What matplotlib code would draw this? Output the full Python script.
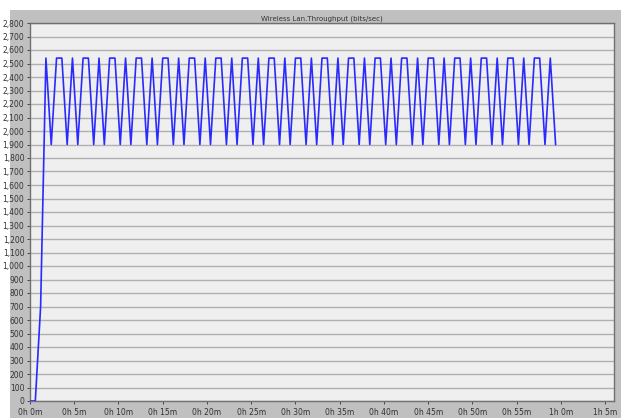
import matplotlib
matplotlib.use("Agg")
import matplotlib.pyplot as plt
from matplotlib.patches import Rectangle
from matplotlib.ticker import FuncFormatter, MultipleLocator

# time in minutes
time_min = [
    0.0, 0.6, 1.2, 1.8,
    2.4, 3.0, 3.6, 4.2, 4.8,
    5.4, 6.0, 6.6, 7.2, 7.8,
    8.4, 9.0, 9.6, 10.2, 10.8,
    11.4, 12.0, 12.6, 13.2, 13.8,
    14.4, 15.0, 15.6, 16.2, 16.8,
    17.4, 18.0, 18.6, 19.2, 19.8,
    20.4, 21.0, 21.6, 22.2, 22.8,
    23.4, 24.0, 24.6, 25.2, 25.8,
    26.4, 27.0, 27.6, 28.2, 28.8,
    29.4, 30.0, 30.6, 31.2, 31.8,
    32.4, 33.0, 33.6, 34.2, 34.8,
    35.4, 36.0, 36.6, 37.2, 37.8,
    38.4, 39.0, 39.6, 40.2, 40.8,
    41.4, 42.0, 42.6, 43.2, 43.8,
    44.4, 45.0, 45.6, 46.2, 46.8,
    47.4, 48.0, 48.6, 49.2, 49.8,
    50.4, 51.0, 51.6, 52.2, 52.8,
    53.4, 54.0, 54.6, 55.2, 55.8,
    56.4, 57.0, 57.6, 58.2, 58.8,
    59.4,
]
throughput = [
    0, 0, 700, 2540,
    1900, 2540, 2540, 1900, 2540,
    1900, 2540, 2540, 1900, 2540,
    1900, 2540, 2540, 1900, 2540,
    1900, 2540, 2540, 1900, 2540,
    1900, 2540, 2540, 1900, 2540,
    1900, 2540, 2540, 1900, 2540,
    1900, 2540, 2540, 1900, 2540,
    1900, 2540, 2540, 1900, 2540,
    1900, 2540, 2540, 1900, 2540,
    1900, 2540, 2540, 1900, 2540,
    1900, 2540, 2540, 1900, 2540,
    1900, 2540, 2540, 1900, 2540,
    1900, 2540, 2540, 1900, 2540,
    1900, 2540, 2540, 1900, 2540,
    1900, 2540, 2540, 1900, 2540,
    1900, 2540, 2540, 1900, 2540,
    1900, 2540, 2540, 1900, 2540,
    1900, 2540, 2540, 1900, 2540,
    1900, 2540, 2540, 1900, 2540,
    1900,
]
x_ticks = [0, 5, 10, 15, 20, 25, 30, 35, 40, 45, 50, 55, 60, 65]
x_tick_labels = ["0h 0m", "0h 5m", "0h 10m", "0h 15m", "0h 20m", "0h 25m", "0h 30m",
                 "0h 35m", "0h 40m", "0h 45m", "0h 50m", "0h 55m", "1h 0m", "1h 5m"]
title = "Wireless Lan.Throughput (bits/sec)"

plt.rcParams['font.family'] = ['Liberation Sans Narrow', 'DejaVu Sans']

W, H = 627, 418
fig = plt.figure(figsize=(W / 100, H / 100), dpi=100, facecolor='white')
bg = Rectangle((10 / W, 0), 611 / W, 408 / H, transform=fig.transFigure,
               facecolor='#c0c0c0', edgecolor='none', zorder=-10)
fig.add_artist(bg)

ax = fig.add_axes([30 / W, 17 / H, 584 / W, 378 / H])
ax.set_zorder(1)
ax.set_facecolor('#efefef')
ax.set_xlim(0, 66)
ax.set_ylim(0, 2800)

ax.yaxis.set_major_locator(MultipleLocator(100))
ax.yaxis.set_major_formatter(FuncFormatter(lambda v, p: f"{int(v):,}"))
ax.grid(axis='y', color='#b0b0b0', linewidth=1.0)
ax.set_axisbelow(True)

ax.set_xticks(x_ticks)
ax.set_xticklabels(x_tick_labels)
ax.tick_params(axis='both', labelsize=5.5, colors='#333333', length=2.5, width=0.6, pad=1.5)
ax.tick_params(axis='x', pad=2.5)

for side in ['top', 'right', 'left', 'bottom']:
    ax.spines[side].set_color('#707070')
    ax.spines[side].set_linewidth(1.0)

ax.plot(time_min, throughput, color='#2a2aff', linewidth=1.2, zorder=3)

fig.text(322 / W, 1 - 19 / H, title, ha='center', va='center', fontsize=5, color='#333333')

fig.savefig('out.png', dpi=100, facecolor='white')
